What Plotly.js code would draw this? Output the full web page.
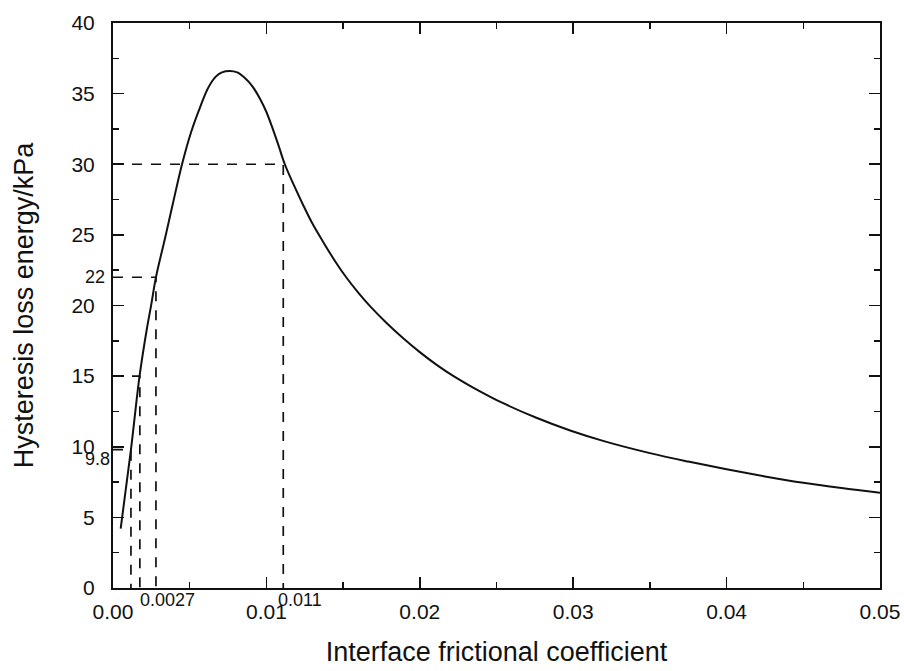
<!DOCTYPE html>
<html>
<head>
<meta charset="utf-8">
<script src="https://cdn.plot.ly/plotly-3.0.1.min.js"></script>
<style>html,body{margin:0;padding:0;background:#fff;}#chart{width:904px;height:671px;}</style>
</head>
<body>
<div id="chart"></div>
<script>
// Curve
const frictionCoef = [0.0005, 0.00117, 0.00173, 0.0022, 0.0025, 0.0028, 0.0034, 0.0039, 0.0045, 0.0051, 0.0057, 0.0062, 0.0067, 0.0071, 0.0076, 0.0081, 0.0086, 0.0091, 0.0096, 0.0100, 0.01045, 0.0108, 0.0112, 0.0118, 0.0124, 0.0130, 0.0137, 0.0145, 0.0152, 0.0160, 0.0168, 0.0178, 0.0189, 0.0200, 0.0211, 0.0222, 0.0233, 0.0254, 0.0276, 0.0298, 0.0320, 0.0350, 0.0375, 0.0400, 0.0425, 0.0450, 0.0475, 0.0500];
const lossEnergy   = [4.2, 9.8, 15.0, 18.3, 20.1, 22.0, 24.8, 27.2, 30.0, 32.3, 34.1, 35.4, 36.2, 36.5, 36.6, 36.5, 36.1, 35.5, 34.6, 33.7, 32.4, 31.3, 30.0, 28.5, 27.1, 25.8, 24.5, 23.1, 22.0, 20.9, 19.9, 18.8, 17.7, 16.7, 15.8, 15.0, 14.3, 13.1, 12.05, 11.15, 10.4, 9.55, 8.95, 8.4, 7.9, 7.45, 7.08, 6.75];

// Dashed guide lines (x value, y value)
const guideX = [0.00117, 0.00175, 0.0028, 0.0111];
const guideY = [9.8, 15.0, 22.0, 30.0];

// Extra labels
const xMarkLabels = ["0.0027", "0.011"];
const xMarkPos = [0.0016, 0.0106];
const yMarkLabels = ["22", "9.8"];
const yMarkPos = [22, 9.1];

const traces = [{
  x: frictionCoef, y: lossEnergy, type: 'scatter', mode: 'lines',
  line: {color: '#111', width: 2, shape: 'spline', smoothing: 1},
  hoverinfo: 'skip', showlegend: false
}];
for (let i = 0; i < guideX.length; i++) {
  traces.push({
    x: [0, guideX[i], guideX[i]], y: [guideY[i], guideY[i], 0],
    type: 'scatter', mode: 'lines',
    line: {color: '#111', width: 1.7, dash: '10px,9px'},
    hoverinfo: 'skip', showlegend: false
  });
}

const annotations = [];
for (let i = 0; i < xMarkLabels.length; i++) {
  annotations.push({text: xMarkLabels[i], x: xMarkPos[i], xref: 'x', y: -0.021, yref: 'paper',
    xanchor: 'left', yanchor: 'middle', showarrow: false,
    font: {family: 'Liberation Sans, Arial, sans-serif', size: 18, color: '#111'}});
}
annotations.push({text: yMarkLabels[0], x: -0.008, xref: 'paper', y: yMarkPos[0], yref: 'y',
  xanchor: 'right', yanchor: 'middle', showarrow: false,
  font: {family: 'Liberation Sans, Arial, sans-serif', size: 18, color: '#111'}});
annotations.push({text: yMarkLabels[1], x: -0.001, xref: 'paper', y: yMarkPos[1], yref: 'y',
  xanchor: 'right', yanchor: 'middle', showarrow: false,
  font: {family: 'Liberation Sans, Arial, sans-serif', size: 18, color: '#111'}});

const layout = {
  width: 904, height: 671,
  margin: {l: 113, r: 24, t: 23, b: 83},
  paper_bgcolor: '#fff', plot_bgcolor: '#fff',
  font: {family: 'Liberation Sans, Arial, sans-serif', color: '#111'},
  xaxis: {
    range: [0, 0.05], tickvals: [0, 0.01, 0.02, 0.03, 0.04, 0.05],
    ticktext: ['0.00', '0.01', '0.02', '0.03', '0.04', '0.05'],
    ticks: 'inside', ticklen: 11, tickwidth: 1.6, tickcolor: '#111',
    minor: {dtick: 0.005, ticks: 'inside', ticklen: 6, tickwidth: 1.4, tickcolor: '#111'},
    showline: true, linewidth: 2, linecolor: '#111', mirror: 'ticks',
    showgrid: false, zeroline: false,
    tickfont: {size: 21}, ticklabelstandoff: 4,
    title: {text: 'Interface frictional coefficient', font: {size: 27}, standoff: 20}
  },
  yaxis: {
    range: [0, 40], tickvals: [0, 5, 10, 15, 20, 25, 30, 35, 40],
    ticks: 'inside', ticklen: 11, tickwidth: 1.6, tickcolor: '#111',
    minor: {dtick: 2.5, ticks: 'inside', ticklen: 6, tickwidth: 1.4, tickcolor: '#111'},
    showline: true, linewidth: 2, linecolor: '#111', mirror: 'ticks',
    showgrid: false, zeroline: false,
    tickfont: {size: 21}, ticklabelstandoff: 12,
    title: {text: 'Hysteresis loss energy/kPa', font: {size: 27}, standoff: 30}
  },
  annotations: annotations
};

Plotly.newPlot('chart', traces, layout, {displayModeBar: false, staticPlot: true});
</script>
</body>
</html>
